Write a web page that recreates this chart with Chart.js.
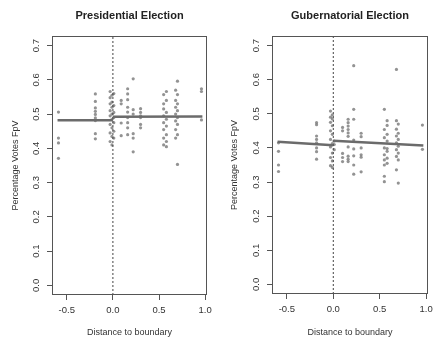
<!DOCTYPE html>
<html>
<head>
<meta charset="utf-8">
<title>Distance to boundary</title>
<script src="https://cdn.jsdelivr.net/npm/chart.js@4/dist/chart.umd.min.js"></script>
<style>
  body { margin: 0; background: #fff; }
  canvas { position: absolute; top: 0; }
  #presChart { left: 0; }
  #gubChart { left: 222px; }
</style>
</head>
<body>
<canvas id="presChart" width="222" height="351"></canvas>
<canvas id="gubChart" width="223" height="351"></canvas>
<script>
"use strict";

// axis ranges and ticks
const xMin = -0.66;
const xMax = 1.02;
const yMin = -0.028;
const yMax = 0.728;
const xTicks = [-0.5, 0, 0.5, 1.0];
const yTicks = [0, 0.1, 0.2, 0.3, 0.4, 0.5, 0.6, 0.7];
const cutoff = 0;

// presidential election points
const presX = [
  -0.59, -0.59, -0.59, -0.59,
  -0.19, -0.19, -0.19, -0.19, -0.19, -0.19, -0.19, -0.19, -0.19,
  -0.03, -0.03, -0.03, -0.03, -0.03, -0.03, -0.03, -0.03,
  -0.01, -0.01, -0.01, -0.01, -0.01, -0.01, -0.01, -0.01,
  0.01, 0.01, 0.01, 0.01, 0.01, 0.01, 0.01,
  0.09, 0.09, 0.09, 0.09,
  0.16, 0.16, 0.16, 0.16, 0.16, 0.16, 0.16, 0.16, 0.16,
  0.22, 0.22, 0.22, 0.22, 0.22, 0.22,
  0.30, 0.30, 0.30, 0.30, 0.30, 0.30,
  0.55, 0.55, 0.55, 0.55, 0.55, 0.55, 0.55, 0.55,
  0.58, 0.58, 0.58, 0.58, 0.58, 0.58, 0.58, 0.58,
  0.68, 0.68, 0.68, 0.68, 0.68, 0.68, 0.68,
  0.70, 0.70, 0.70, 0.70, 0.70, 0.70, 0.70, 0.70,
  0.96, 0.96, 0.96
];
const presY = [
  0.506, 0.43, 0.416, 0.371,
  0.559, 0.537, 0.518, 0.508, 0.499, 0.489, 0.481, 0.443, 0.428,
  0.566, 0.548, 0.53, 0.51, 0.495, 0.47, 0.445, 0.42,
  0.555, 0.535, 0.52, 0.50, 0.485, 0.46, 0.435, 0.41,
  0.56, 0.525, 0.505, 0.49, 0.475, 0.45, 0.43,
  0.54, 0.53, 0.474, 0.437,
  0.574, 0.559, 0.542, 0.52, 0.506, 0.49, 0.475, 0.46, 0.44,
  0.603, 0.513, 0.50, 0.443, 0.43, 0.39,
  0.516, 0.505, 0.495, 0.49, 0.47, 0.46,
  0.557, 0.53, 0.515, 0.495, 0.475, 0.455, 0.43, 0.41,
  0.566, 0.54, 0.505, 0.485, 0.465, 0.44, 0.42, 0.405,
  0.57, 0.54, 0.52, 0.50, 0.48, 0.455, 0.43,
  0.596, 0.557, 0.53, 0.51, 0.49, 0.47, 0.44, 0.353,
  0.574, 0.566, 0.483
];

// gubernatorial election points
const gubX = [
  -0.59, -0.59, -0.59, -0.59,
  -0.18, -0.18, -0.18, -0.18, -0.18, -0.18, -0.18, -0.18,
  -0.03, -0.03, -0.03, -0.03, -0.03, -0.03, -0.03, -0.03,
  -0.01, -0.01, -0.01, -0.01, -0.01, -0.01, -0.01, -0.01,
  0.01, 0.01, 0.01,
  0.10, 0.10, 0.10, 0.10, 0.10,
  0.16, 0.16, 0.16, 0.16, 0.16, 0.16, 0.16, 0.16, 0.16, 0.16,
  0.22, 0.22, 0.22, 0.22, 0.22, 0.22, 0.22, 0.22,
  0.30, 0.30, 0.30, 0.30, 0.30, 0.30,
  0.55, 0.55, 0.55, 0.55, 0.55, 0.55, 0.55, 0.55, 0.55,
  0.58, 0.58, 0.58, 0.58, 0.58, 0.58, 0.58, 0.58,
  0.68, 0.68, 0.68, 0.68, 0.68, 0.68, 0.68, 0.68,
  0.70, 0.70, 0.70, 0.70, 0.70, 0.70, 0.70,
  0.96, 0.96
];
const gubY = [
  0.415, 0.39, 0.35, 0.331,
  0.474, 0.468, 0.435, 0.425, 0.415, 0.40, 0.389, 0.367,
  0.508, 0.49, 0.475, 0.45, 0.425, 0.403, 0.372, 0.348,
  0.497, 0.485, 0.465, 0.44, 0.413, 0.385, 0.362, 0.343,
  0.42, 0.41, 0.395,
  0.46, 0.45, 0.384, 0.372, 0.36,
  0.484, 0.474, 0.464, 0.454, 0.444, 0.434, 0.403, 0.376, 0.367, 0.36,
  0.641, 0.513, 0.484, 0.423, 0.397, 0.377, 0.35, 0.323,
  0.443, 0.433, 0.40, 0.38, 0.373, 0.33,
  0.513, 0.454, 0.43, 0.40, 0.38, 0.365, 0.35, 0.317, 0.301,
  0.48, 0.466, 0.44, 0.42, 0.398, 0.39, 0.37, 0.355,
  0.63, 0.48, 0.455, 0.435, 0.415, 0.395, 0.375, 0.336,
  0.47, 0.443, 0.425, 0.405, 0.385, 0.365, 0.297,
  0.467, 0.396
];

// fitted lines on each side of the boundary
const fitLeftX = [-0.6, 0];
const fitRightX = [0, 0.97];
const presFitLeft = [0.482, 0.482];
const presFitRight = [0.492, 0.493];
const gubFitLeft = [0.418, 0.408];
const gubFitRight = [0.421, 0.407];

Chart.defaults.font.family = "'Liberation Sans', Arial, sans-serif";
Chart.defaults.color = "#333";

const boxPlugin = {
  id: "box",
  afterDraw(chart) {
    const a = chart.chartArea;
    const ctx = chart.ctx;
    ctx.save();
    ctx.strokeStyle = "#555";
    ctx.lineWidth = 1;
    ctx.strokeRect(a.left + 0.5, a.top + 0.5, a.right - a.left - 1, a.bottom - a.top - 1);
    ctx.restore();
  }
};

function pairs(xs, ys) {
  return xs.map((x, i) => ({ x: x, y: ys[i] }));
}

function makePanel(id, title, xs, ys, fitL, fitR, leftSpace, rightSpace, bottomSpace, yTitlePad) {
  let ctx = document.getElementById(id);
  return new Chart(ctx, {
    type: "scatter",
    data: {
      datasets: [
        {
          data: pairs(fitLeftX, fitL),
          showLine: true,
          pointRadius: 0,
          borderColor: "#6b6b6b",
          borderWidth: 2.5
        },
        {
          data: pairs(fitRightX, fitR),
          showLine: true,
          pointRadius: 0,
          borderColor: "#6b6b6b",
          borderWidth: 2.5
        },
        {
          data: pairs([cutoff, cutoff], [yMin, yMax]),
          showLine: true,
          pointRadius: 0,
          borderColor: "#444",
          borderWidth: 1,
          borderDash: [2, 2]
        },
        {
          data: pairs(xs, ys),
          pointRadius: 1.6,
          pointBorderWidth: 0,
          backgroundColor: "rgba(120,120,120,0.8)"
        }
      ]
    },
    options: {
      responsive: false,
      animation: false,
      events: [],
      layout: { padding: { left: 0, right: rightSpace, top: 0, bottom: 0 } },
      plugins: {
        legend: { display: false },
        tooltip: { enabled: false },
        title: {
          display: true,
          text: title,
          fullSize: false,
          color: "#222",
          font: { size: 11, weight: "bold" },
          padding: { top: 9, bottom: 13.8 }
        }
      },
      scales: {
        x: {
          type: "linear",
          min: xMin,
          max: xMax,
          afterBuildTicks: s => { s.ticks = xTicks.map(v => ({ value: v })); },
          afterFit: s => { s.height = bottomSpace; },
          border: { display: false },
          grid: { drawOnChartArea: false, tickLength: 5, color: "#555" },
          ticks: {
            font: { size: 9.5 },
            padding: 5,
            maxRotation: 0,
            callback: v => v.toFixed(1)
          },
          title: {
            display: true,
            text: "Distance to boundary",
            font: { size: 9 },
            padding: { top: 0, bottom: 13 }
          }
        },
        y: {
          type: "linear",
          min: yMin,
          max: yMax,
          afterBuildTicks: s => { s.ticks = yTicks.map(v => ({ value: v })); },
          afterFit: s => { s.width = leftSpace; },
          border: { display: false },
          grid: { drawOnChartArea: false, tickLength: 5, color: "#555" },
          ticks: {
            font: { size: 9.5 },
            minRotation: 90,
            maxRotation: 90,
            crossAlign: "center",
            padding: 4.5,
            callback: v => v.toFixed(1)
          },
          title: {
            display: true,
            text: "Percentage Votes FpV",
            font: { size: 9 },
            padding: { top: yTitlePad, bottom: 0 }
          }
        }
      }
    },
    plugins: [boxPlugin]
  });
}

makePanel("presChart", "Presidential Election", presX, presY, presFitLeft, presFitRight, 52, 15, 56, 10);
makePanel("gubChart", "Gubernatorial Election", gubX, gubY, gubFitLeft, gubFitRight, 50, 17, 57, 7.6);
</script>
</body>
</html>
